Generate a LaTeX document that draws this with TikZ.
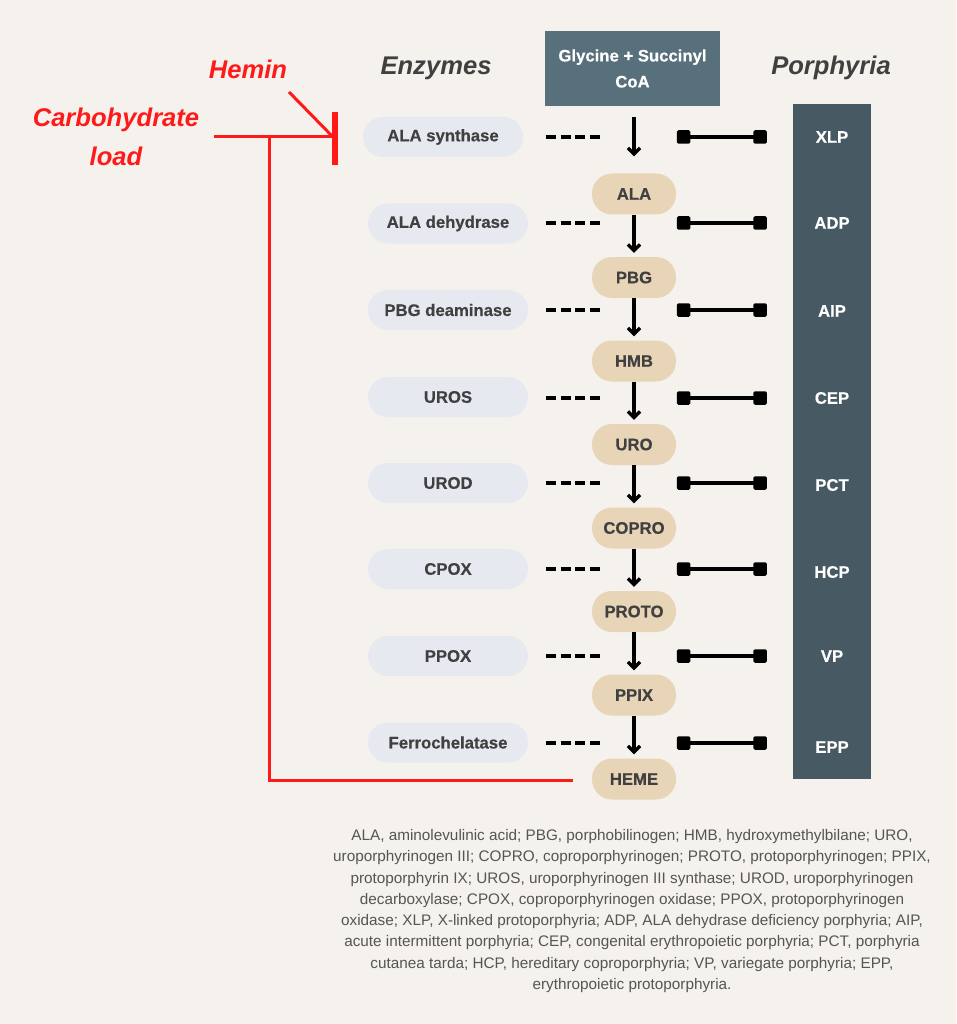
\documentclass[tikz,border=0pt]{standalone}
\usepackage{fontspec}
\setmainfont{Liberation Sans}[BoldFeatures={FakeBold=0.4}]
\usetikzlibrary{arrows.meta}
\definecolor{bgc}{HTML}{F5F2ED}
\definecolor{glyc}{HTML}{586F7C}
\definecolor{barc}{HTML}{475963}
\definecolor{enzc}{HTML}{E6E9EF}
\definecolor{metc}{HTML}{E8D5B8}
\definecolor{txtc}{HTML}{404040}
\definecolor{redc}{HTML}{FF1A1A}
\definecolor{capc}{HTML}{555555}
\begin{document}
\begin{tikzpicture}[x=1pt,y=-1pt,
  enzbox/.style={fill=enzc, rounded corners=20pt, minimum width=160pt, minimum height=40pt, inner sep=0pt, text=txtc, font=\bfseries\fontsize{16.7}{20}\selectfont},
  metbox/.style={fill=metc, rounded corners=20pt, minimum width=84pt, minimum height=41pt, inner sep=0pt, text=txtc, font=\bfseries\fontsize{16.7}{20}\selectfont},
  porlab/.style={text=white, font=\bfseries\fontsize{16.7}{20}\selectfont},
  header/.style={text=txtc, font=\bfseries\itshape\fontsize{25.6}{30}\selectfont},
  redtext/.style={text=redc, font=\bfseries\itshape\fontsize{25.6}{39}\selectfont, align=center},
  flow/.style={draw=black, line width=3.3pt, -{Straight Barb[length=6pt,width=12pt,line width=3.3pt]}},
  dashline/.style={draw=black, line width=3.5pt, dash pattern=on 10pt off 4.7pt},
  sqend/.style={fill=black, rounded corners=1.5pt, minimum size=13.5pt, inner sep=0pt},
  sqline/.style={draw=black, line width=3.3pt},
  redline/.style={draw=redc, line width=3pt},
]
\fill[bgc] (0,0) rectangle (956,1024);
\useasboundingbox (0,0) rectangle (956,1024);

% headers
\node[header] (henz) at (436,68) {Enzymes};
\node[header] (hpor) at (831,68) {Porphyria};

% glycine box
\node[fill=glyc, minimum width=175pt, minimum height=75pt, inner sep=0pt, text=white, align=center,
  font=\bfseries\fontsize{16.7}{26}\selectfont] (gly) at (632.5,68.5) {Glycine + Succinyl\\CoA};

% porphyria bar
\fill[barc] (793,104) rectangle (871,779);
\node[porlab] (p1) at (832,137) {XLP};
\node[porlab] (p2) at (832,223) {ADP};
\node[porlab] (p3) at (832,311) {AIP};
\node[porlab] (p4) at (832,398) {CEP};
\node[porlab] (p5) at (832,485) {PCT};
\node[porlab] (p6) at (832,572) {HCP};
\node[porlab] (p7) at (832,656) {VP};
\node[porlab] (p8) at (832,747) {EPP};

% enzymes
\node[enzbox] (e1) at (443,137) {ALA synthase};
\node[enzbox] (e2) at (448,223.5) {ALA dehydrase};
\node[enzbox] (e3) at (448,310) {PBG deaminase};
\node[enzbox] (e4) at (448,397) {UROS};
\node[enzbox] (e5) at (448,483) {UROD};
\node[enzbox] (e6) at (448,569) {CPOX};
\node[enzbox] (e7) at (448,656) {PPOX};
\node[enzbox] (e8) at (448,742.5) {Ferrochelatase};

% metabolites
\node[metbox] (m1) at (634,194) {ALA};
\node[metbox] (m2) at (634,277.5) {PBG};
\node[metbox] (m3) at (634,361) {HMB};
\node[metbox] (m4) at (634,444.5) {URO};
\node[metbox] (m5) at (634,528) {COPRO};
\node[metbox] (m6) at (634,611.5) {PROTO};
\node[metbox] (m7) at (634,695) {PPIX};
\node[metbox] (m8) at (634,779) {HEME};

% flow arrows
\draw[flow, shorten <=11pt, shorten >=17pt] (gly.south -| m1) -- (m1.north);
\foreach \a/\b in {m1/m2,m2/m3,m3/m4,m4/m5,m5/m6,m6/m7,m7/m8}
  \draw[flow, shorten >=4pt] (\a.south) -- (\b.north);

% dashed and square connectors
\foreach \i/\y in {1/137,2/223,3/310,4/398,5/483,6/569,7/656,8/743}{
  \coordinate (dl\i) at (546,\y);
  \coordinate (dr\i) at (600,\y);
  \draw[dashline] (dl\i) -- (dr\i);
  \node[sqend] (sl\i) at (683.5,\y) {};
  \node[sqend] (sr\i) at (760,\y) {};
  \draw[sqline] (sl\i.center) -- (sr\i.center);
}

% red annotations
\node[redtext] (hemin) at (248,69) {Hemin};
\node[redtext] (carb) at (116,136.5) {Carbohydrate\\load};
\coordinate (cstart) at (214,137);
\coordinate (inh) at (333,137);
\coordinate (inhtop) at (334.5,112);
\coordinate (inhbot) at (334.5,165);
\coordinate (hstart) at (289,92);
\coordinate (vtop) at (269,137);
\coordinate (vbot) at (269,780);
\coordinate (hend) at (573,780);
\draw[redline] (cstart) -- (inh);
\draw[redline] (hstart) -- (inh);
\draw[draw=redc, line width=6pt] (inhtop) -- (inhbot);
\draw[redline] (vtop) -- (vbot) -- (hend);

% caption
\node[text=capc, align=center, font=\fontsize{15.3}{21.3}\selectfont] (cap) at (632,911)
{ALA, aminolevulinic acid; PBG, porphobilinogen; HMB, hydroxymethylbilane; URO,\\
uroporphyrinogen III; COPRO, coproporphyrinogen; PROTO, protoporphyrinogen; PPIX,\\
protoporphyrin IX; UROS, uroporphyrinogen III synthase; UROD, uroporphyrinogen\\
decarboxylase; CPOX, coproporphyrinogen oxidase; PPOX, protoporphyrinogen\\
oxidase; XLP, X-linked protoporphyria; ADP, ALA dehydrase deficiency porphyria; AIP,\\
acute intermittent porphyria; CEP, congenital erythropoietic porphyria; PCT, porphyria\\
cutanea tarda; HCP, hereditary coproporphyria; VP, variegate porphyria; EPP,\\
erythropoietic protoporphyria.};
\end{tikzpicture}
\end{document}
